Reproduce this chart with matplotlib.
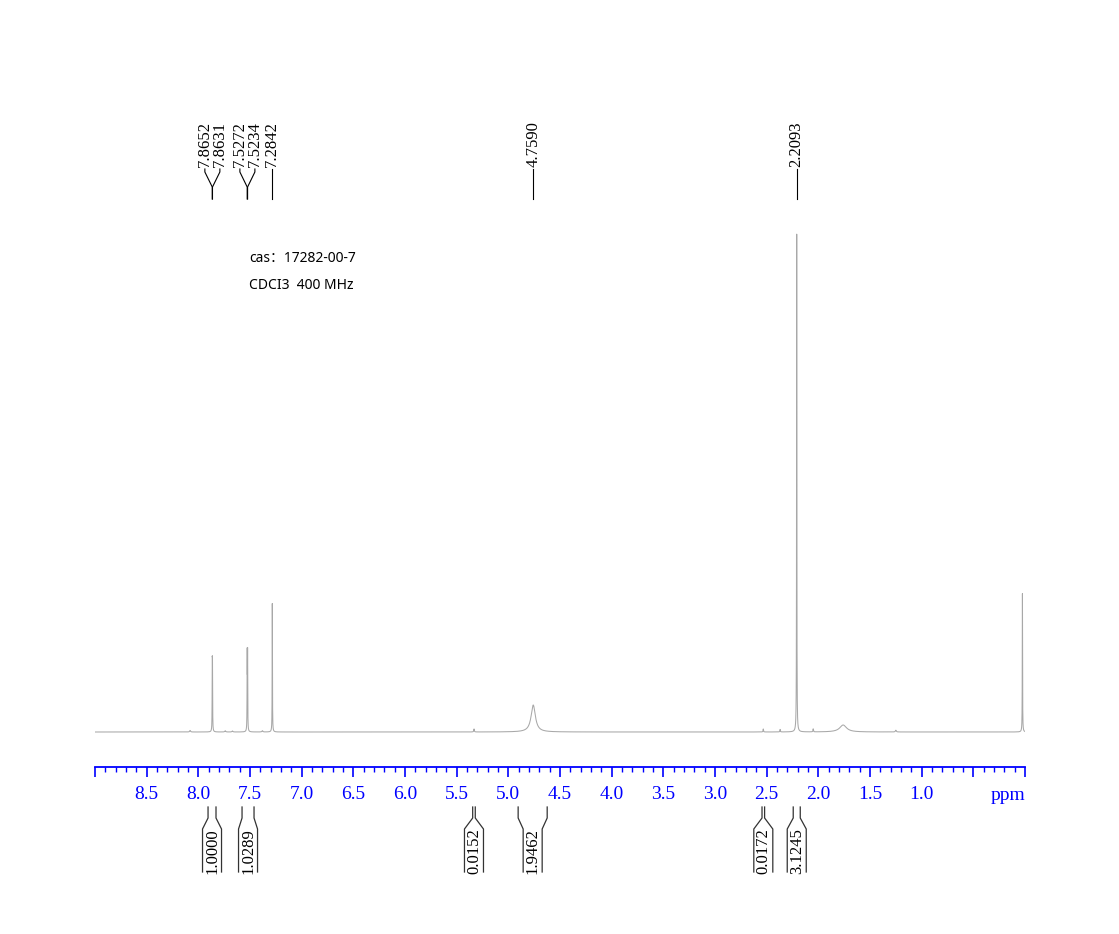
import numpy as np
import matplotlib
matplotlib.use('Agg')
import matplotlib.pyplot as plt
from matplotlib.ticker import FixedLocator, FixedFormatter, MultipleLocator

plt.rcParams['font.family'] = ['Liberation Serif', 'DejaVu Serif']

# 峰列表 (化学位移 ppm, 峰高, 半峰宽 ppm)
peak_ppm = [7.8652, 7.8631, 7.5272, 7.5234, 7.2842, 4.7590, 2.2093, 0.025,
            1.76, 5.332, 2.533, 2.37, 2.05, 1.25, 8.08, 7.74, 7.38, 7.67]
peak_height = [11.1, 11.1, 14.9, 14.9, 25.8, 5.4, 100.0, 27.8,
               1.4, 0.6, 0.6, 0.5, 0.6, 0.35, 0.3, 0.25, 0.25, 0.2]
peak_width = [0.003, 0.003, 0.003, 0.003, 0.003, 0.05, 0.003, 0.003,
              0.08, 0.006, 0.005, 0.005, 0.005, 0.01, 0.01, 0.01, 0.01, 0.01]

# 峰标注
label_ppm = [7.8652, 7.8631, 7.5272, 7.5234, 7.2842, 4.7590, 2.2093]

# 积分区间与积分值
integ_from = [7.906, 7.577, 5.345, 4.905, 2.545, 2.243]
integ_to = [7.829, 7.461, 5.320, 4.624, 2.520, 2.175]
integ_value = ['1.0000', '1.0289', '0.0152', '1.9462', '0.0172', '3.1245']

tick_pos = np.arange(0, 9.01, 0.5)
tick_text = ['' if (t < 0.9 or t > 8.9) else f'{t:.1f}' for t in tick_pos]

# 生成谱线
x = np.linspace(9.0, 0.0, 30001)
y = np.zeros_like(x)
for p, h, w in zip(peak_ppm, peak_height, peak_width):
    y += h / (1 + ((x - p) / (w / 2)) ** 2)

fig = plt.figure(figsize=(11.19, 9.34), dpi=100)
ax = fig.add_axes([95 / 1119, 167 / 934, 930 / 1119, 767 / 934])
ax.set_xlim(9.0, 0.0)
ax.set_ylim(-7, 146.4)

ax.plot(x, y, color='#a8a8a8', lw=0.75)

for s in ['top', 'left', 'right']:
    ax.spines[s].set_visible(False)
ax.spines['bottom'].set_color('blue')
ax.spines['bottom'].set_linewidth(1.3)
ax.set_yticks([])
ax.xaxis.set_major_locator(FixedLocator(tick_pos))
ax.xaxis.set_major_formatter(FixedFormatter(tick_text))
ax.xaxis.set_minor_locator(MultipleLocator(0.1))
ax.tick_params(axis='x', which='major', direction='out', length=7, width=1.2,
               color='blue', labelcolor='blue', labelsize=14, pad=7)
ax.tick_params(axis='x', which='minor', direction='out', length=3.5, width=1,
               color='blue')

ppm_per_px = 9.0 / 930


def py(p):
    # 像素行 -> 数据 y
    return (732 - p) / 5.0


ax.text(0.0, py(800), 'ppm', color='blue', fontsize=14, ha='right',
        va='baseline')

# 峰标注位置：靠得太近的分组展开
gap = 15 * ppm_per_px
order = sorted(label_ppm, reverse=True)
groups = [[order[0]]]
for v in order[1:]:
    if groups[-1][-1] - v < gap:
        groups[-1].append(v)
    else:
        groups.append([v])
for g in groups:
    c = np.mean(g)
    n = len(g)
    for i, v in enumerate(g):
        lx = c + (n - 1) / 2 * gap - i * gap
        ax.plot([lx, lx, v, v], [py(169), py(172), py(187), py(199)],
                color='black', lw=0.8, clip_on=False)
        ax.text(lx, py(167), f'{v:.4f}', rotation=90, ha='center',
                va='bottom', fontsize=12)

# 积分
half_box = 9.5 * ppm_per_px
for a, b, val in zip(integ_from, integ_to, integ_value):
    c = (a + b) / 2
    ax.plot([a, a, c + half_box, c + half_box],
            [py(807), py(818), py(829), py(872)],
            color='#333333', lw=0.9, clip_on=False)
    ax.plot([b, b, c - half_box, c - half_box],
            [py(807), py(818), py(829), py(872)],
            color='#333333', lw=0.9, clip_on=False)
    ax.text(c, py(851), val, rotation=90, ha='center', va='center',
            fontsize=12)

fig.text(249 / 1119, 1 - 258 / 934, 'cas：17282-00-7', fontsize=10,
         va='center', ha='left', family=['Noto Sans', 'Noto Sans CJK SC'])
fig.text(249 / 1119, 1 - 285 / 934, 'CDCI3  400 MHz', fontsize=10,
         va='center', ha='left', family=['Noto Sans', 'Noto Sans CJK SC'])

fig.savefig('out.png', dpi=100)
